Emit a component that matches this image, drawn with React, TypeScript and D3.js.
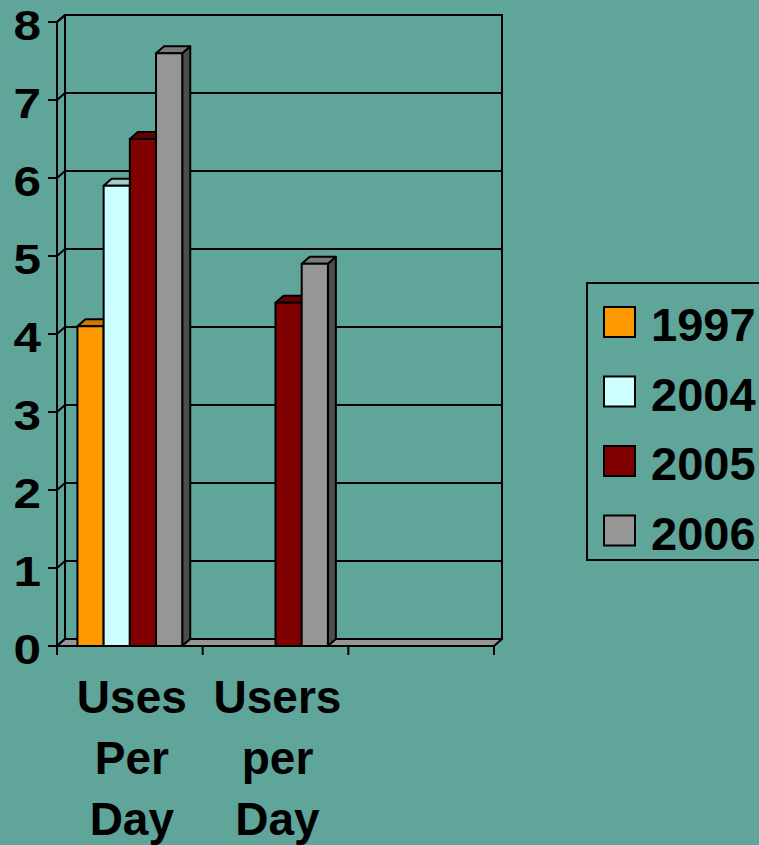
import React from "react";
import * as d3 from "d3";

const categories = ["Uses Per Day", "Users per Day", ""];
const seriesNames = ["1997", "2004", "2005", "2006"];
const values1997 = [4.1, null, null];
const values2004 = [5.9, null, null];
const values2005 = [6.5, 4.4, null];
const values2006 = [7.6, 4.9, null];
const yTicks = [0, 1, 2, 3, 4, 5, 6, 7, 8];

const seriesValues = [values1997, values2004, values2005, values2006];
const frontColors = ["#FF9900", "#CCFFFF", "#800000", "#969696"];
const topColors = ["#CC7A00", "#A3CCCC", "#660000", "#7A7A7A"];
const sideColors = ["#995C00", "#7A9999", "#4D0000", "#4D4D4D"];

const W = 759;
const H = 845;
const BG = "#5FA59A";
const DX = 8;
const DY = -7;
const FONT = "'Liberation Sans', Arial, Helvetica, sans-serif";

export default function App() {
  const y = d3.scaleLinear().domain([0, 8]).range([646, 22]);
  const x0 = d3.scaleBand<string>().domain(categories).range([57, 494]).paddingInner(0).paddingOuter(0);
  const x1 = d3
    .scaleBand<string>()
    .domain(seriesNames)
    .range([0, x0.bandwidth()])
    .paddingInner(0)
    .paddingOuter(0.78);

  const left = x0.range()[0];
  const right = x0.range()[1];
  const y0 = y(0);
  const yTop = y(8);

  const bars: React.ReactNode[] = [];
  categories.forEach((c, ci) => {
    seriesNames.forEach((s, si) => {
      const v = seriesValues[si][ci];
      if (v == null) return;
      const bx = (x0(c) as number) + (x1(s) as number);
      const bw = x1.bandwidth();
      const ty = y(v);
      const by = y0;
      const front = `M${bx},${ty}L${bx + bw},${ty}L${bx + bw},${by}L${bx},${by}Z`;
      const top = `M${bx},${ty}L${bx + DX},${ty + DY}L${bx + bw + DX},${ty + DY}L${bx + bw},${ty}Z`;
      const side = `M${bx + bw},${ty}L${bx + bw + DX},${ty + DY}L${bx + bw + DX},${by + DY}L${bx + bw},${by}Z`;
      bars.push(
        <g key={`${ci}-${si}`} stroke="#000" strokeWidth={2} strokeLinejoin="round">
          <path d={side} fill={sideColors[si]} />
          <path d={top} fill={topColors[si]} />
          <path d={front} fill={frontColors[si]} />
        </g>
      );
    });
  });

  const xTickPos = [...categories.map((c) => x0(c) as number), right];

  return (
    <svg
      width={W}
      height={H}
      style={{ position: "fixed", left: 0, top: 0, display: "block" }}
      fontFamily={FONT}
    >
      <rect x={0} y={0} width={W} height={H} fill={BG} />

      {/* back wall */}
      <rect
        x={left + DX}
        y={yTop + DY}
        width={right - left}
        height={y0 - yTop}
        fill="none"
        stroke="#000"
        strokeWidth={2}
      />
      {/* side wall outline */}
      <path
        d={`M${left},${yTop}L${left + DX},${yTop + DY}`}
        stroke="#000"
        strokeWidth={2}
        fill="none"
      />
      {/* gridlines */}
      {yTicks.map((t) => (
        <path
          key={`g${t}`}
          d={`M${left},${y(t)}L${left + DX},${y(t) + DY}L${right + DX},${y(t) + DY}`}
          stroke="#000"
          strokeWidth={2}
          fill="none"
        />
      ))}
      {/* floor */}
      <path
        d={`M${left},${y0}L${right},${y0}L${right + DX},${y0 + DY}L${left + DX},${y0 + DY}Z`}
        fill="#969696"
        stroke="#000"
        strokeWidth={2}
        strokeLinejoin="round"
      />

      {bars}

      {/* front axes */}
      <line x1={left} y1={yTop} x2={left} y2={y0 + 9} stroke="#000" strokeWidth={2} />
      <line x1={left} y1={y0} x2={right} y2={y0} stroke="#000" strokeWidth={2} />
      {yTicks.map((t) => (
        <line key={`yt${t}`} x1={left - 9} y1={y(t)} x2={left} y2={y(t)} stroke="#000" strokeWidth={2} />
      ))}
      {xTickPos.map((p, i) => (
        <line key={`xt${i}`} x1={p} y1={y0} x2={p} y2={y0 + 9} stroke="#000" strokeWidth={2} />
      ))}

      {/* y labels */}
      {yTicks.map((t) => (
        <text
          key={`yl${t}`}
          transform={`translate(41,${y(t) + 18}) scale(1.15,1)`}
          textAnchor="end"
          fontSize={43}
          fontWeight="bold"
          fill="#000"
        >
          {t}
        </text>
      ))}

      {/* category labels */}
      {categories.map((c, ci) => {
        const cx = (x0(c) as number) + x0.bandwidth() / 2 + 2;
        const lines = c.split(" ").filter((w) => w.length > 0);
        return (
          <text key={`cl${ci}`} textAnchor="middle" fontSize={46} fontWeight="bold" fill="#000">
            {lines.map((w, li) => (
              <tspan key={li} x={cx} y={y0 + 67 + li * 61}>
                {w}
              </tspan>
            ))}
          </text>
        );
      })}

      {/* legend */}
      <rect x={587} y={283} width={220} height={277} fill="none" stroke="#000" strokeWidth={2} />
      {seriesNames.map((s, si) => {
        const sy = 307 + si * 69.5;
        return (
          <g key={`lg${s}`}>
            <rect x={604} y={sy} width={31} height={30} fill={frontColors[si]} stroke="#000" strokeWidth={2} />
            <text x={651} y={sy + 34} fontSize={47} fontWeight="bold" fill="#000">
              {s}
            </text>
          </g>
        );
      })}
    </svg>
  );
}
